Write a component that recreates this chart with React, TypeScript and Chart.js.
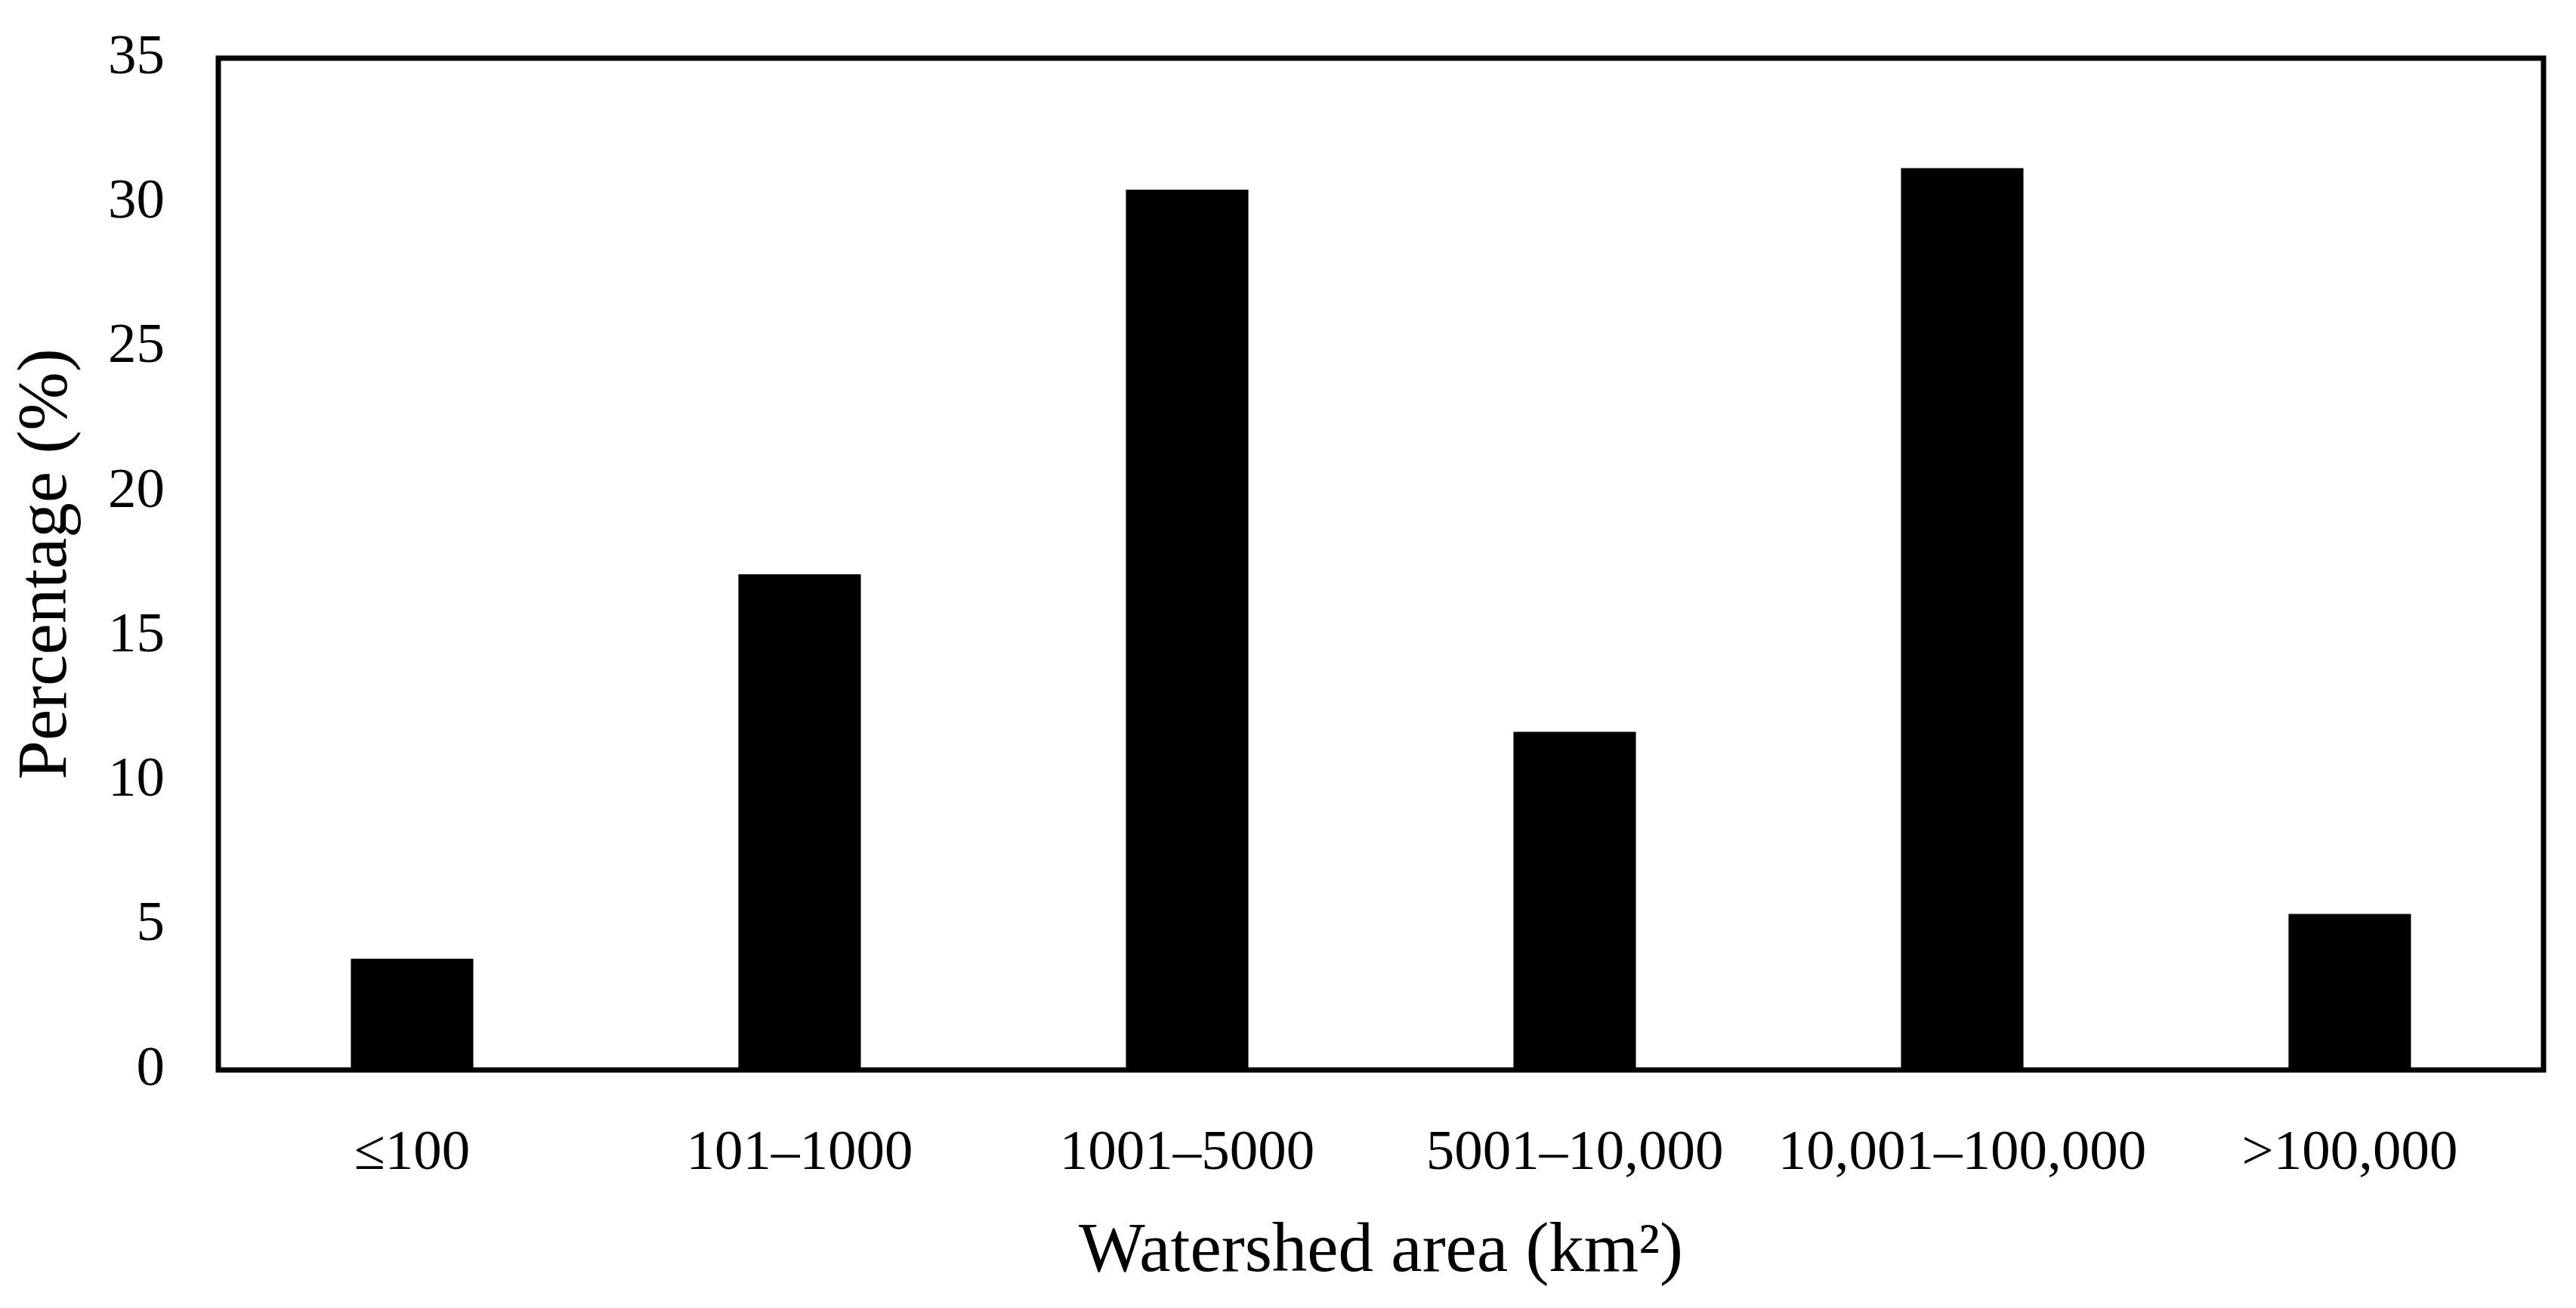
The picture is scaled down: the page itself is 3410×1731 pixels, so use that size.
import React, { useEffect, useRef } from "react";
import { Chart, registerables } from "chart.js";

Chart.register(...registerables);

const categories = ["≤100", "101–1000", "1001–5000", "5001–10,000", "10,001–100,000", ">100,000"];
const percentages = [3.85, 17.15, 30.45, 11.7, 31.2, 5.4];
const yMin = 0;
const yMax = 35;
const yStep = 5;
const yTitle = "Percentage (%)";
const xTitle = "Watershed area (km²)";

const FONT = "'Liberation Serif', 'Times New Roman', serif";

const framePlugin = {
  id: "frame",
  afterDatasetsDraw(chart: any) {
    const { ctx, chartArea: a } = chart;
    ctx.save();
    ctx.strokeStyle = "#000";
    ctx.lineWidth = 7;
    ctx.strokeRect(a.left, a.top, a.right - a.left, a.bottom - a.top);
    ctx.restore();
  },
};

export default function App() {
  const ref = useRef<HTMLCanvasElement | null>(null);

  useEffect(() => {
    if (!ref.current) return;
    const chart = new Chart(ref.current, {
      type: "bar",
      data: {
        labels: categories,
        datasets: [
          {
            data: percentages,
            backgroundColor: "#000",
            borderWidth: 0,
            barPercentage: 0.316,
            categoryPercentage: 1,
          },
        ],
      },
      options: {
        animation: false,
        responsive: true,
        maintainAspectRatio: false,
        layout: { padding: { left: 0, right: 43, top: 77, bottom: 0 } },
        plugins: { legend: { display: false }, tooltip: { enabled: false } },
        scales: {
          x: {
            grid: { display: false, drawTicks: false },
            border: { display: false },
            ticks: {
              color: "#000",
              font: { family: FONT, size: 75 },
              padding: 66,
              autoSkip: false,
              maxRotation: 0,
              minRotation: 0,
            },
            title: {
              display: true,
              text: xTitle,
              color: "#000",
              font: { family: FONT, size: 93 },
              padding: { top: 0, bottom: 18 },
            },
            afterFit(scale: any) {
              scale.height = 315;
              scale.paddingLeft = 0;
              scale.paddingRight = 0;
              scale.paddingTop = 0;
              scale.paddingBottom = 0;
            },
          },
          y: {
            min: yMin,
            max: yMax,
            grid: { display: false, drawTicks: false },
            border: { display: false },
            ticks: {
              stepSize: yStep,
              color: "#000",
              font: { family: FONT, size: 75 },
              padding: 71,
            },
            title: {
              display: true,
              text: yTitle,
              color: "#000",
              font: { family: FONT, size: 93 },
              padding: { top: 7, bottom: 0 },
            },
            afterFit(scale: any) {
              scale.width = 289;
              scale.paddingLeft = 0;
              scale.paddingRight = 0;
              scale.paddingTop = 0;
              scale.paddingBottom = 0;
            },
          },
        },
      },
      plugins: [framePlugin],
    });
    return () => chart.destroy();
  }, []);

  return (
    <div style={{ position: "absolute", left: 0, top: 0, width: "3410px", height: "1731px", background: "#fff" }}>
      <canvas ref={ref} />
    </div>
  );
}
